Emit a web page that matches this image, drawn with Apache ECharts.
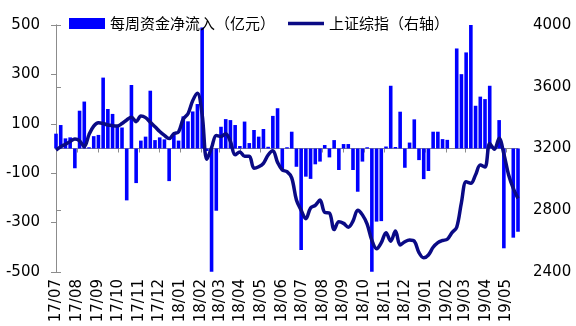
<!DOCTYPE html>
<html>
<head>
<meta charset="utf-8">
<script src="https://cdn.jsdelivr.net/npm/echarts@6/dist/echarts.min.js"></script>
<style>
  html, body { margin: 0; padding: 0; background: #fff; }
  #chart { width: 576px; height: 326px; }
</style>
</head>
<body>
<div id="chart"></div>
<script>
// Weekly dates (Fridays)
const weekDates = [
  '2017-07-07','2017-07-14','2017-07-21','2017-07-28','2017-08-04','2017-08-11','2017-08-18','2017-08-25',
  '2017-09-01','2017-09-08','2017-09-15','2017-09-22','2017-09-29','2017-10-06','2017-10-13','2017-10-20',
  '2017-10-27','2017-11-03','2017-11-10','2017-11-17','2017-11-24','2017-12-01','2017-12-08','2017-12-15',
  '2017-12-22','2017-12-29',
  '2018-01-05','2018-01-12','2018-01-19','2018-01-26','2018-02-02','2018-02-09','2018-02-16','2018-02-23',
  '2018-03-02','2018-03-09','2018-03-16','2018-03-23','2018-03-30','2018-04-06','2018-04-13','2018-04-20',
  '2018-04-27','2018-05-04','2018-05-11','2018-05-18','2018-05-25','2018-06-01','2018-06-08','2018-06-15',
  '2018-06-22','2018-06-29','2018-07-06','2018-07-13','2018-07-20','2018-07-27','2018-08-03','2018-08-10',
  '2018-08-17','2018-08-24','2018-08-31','2018-09-07','2018-09-14','2018-09-21','2018-09-28','2018-10-05',
  '2018-10-12','2018-10-19','2018-10-26','2018-11-02','2018-11-09','2018-11-16','2018-11-23','2018-11-30',
  '2018-12-07','2018-12-14','2018-12-21','2018-12-28',
  '2019-01-04','2019-01-11','2019-01-18','2019-01-25','2019-02-01','2019-02-08','2019-02-15','2019-02-22',
  '2019-03-01','2019-03-08','2019-03-15','2019-03-22','2019-03-29','2019-04-05','2019-04-12','2019-04-19',
  '2019-04-26','2019-05-03','2019-05-10','2019-05-17','2019-05-24'
];

// 每周资金净流入（亿元）
const netInflow = [
  60, 95, 41, 45, -80, 153, 190, 5, 50, 55,
  287, 160, 140, 90, 85, -210, 257, -140, 32, 48,
  234, 34, 45, 37, -132, 55, 32, 130, 110, 150,
  180, 490, -10, -499, -252, 88, 119, 115, 95, 10,
  109, 22, 75, 48, 79, 7, 132, 163, -87, 5,
  68, -74, -411, -114, -123, -64, -53, 14, -36, 34,
  -87, 18, 18, -87, -175, -53, 5, -499, -296, -294,
  8, 254, 6, 149, -78, 24, 118, -47, -124, -91,
  68, 68, 38, 35, 0, 405, 301, 389, 500, 173,
  210, 200, 254, 0, 115, -404, 0, -361, -337
];

// 上证综指（右轴）
const shIndex = [
  3190, 3212, 3228, 3245, 3262, 3250, 3212, 3290, 3345, 3367,
  3362, 3352, 3348, 3346, 3362, 3385, 3403, 3374, 3410, 3400,
  3370, 3341, 3310, 3285, 3264, 3296, 3308, 3392, 3425, 3510,
  3558, 3420, 3130, 3205, 3285, 3278, 3296, 3245, 3160, 3178,
  3150, 3150, 3072, 3082, 3104, 3158, 3185, 3110, 3061, 3050,
  3010, 2866, 2800, 2745, 2815, 2832, 2866, 2786, 2782, 2675,
  2726, 2715, 2690, 2730, 2800, 2770, 2710, 2605, 2550, 2590,
  2655, 2600, 2665, 2575, 2596, 2607, 2600, 2525, 2492, 2510,
  2560, 2590, 2604, 2612, 2655, 2690, 2850, 2985, 2975, 3030,
  3093, 3080, 3232, 3195, 3266, 3165, 3030, 2942, 2877
];

// Monthly tick / label positions on the date axis
const monthTicks = [
  '2017-07-07','2017-08-07','2017-09-07','2017-10-07','2017-11-07','2017-12-07',
  '2018-01-07','2018-02-07','2018-03-07','2018-04-07','2018-05-07','2018-06-07',
  '2018-07-07','2018-08-07','2018-09-07','2018-10-07','2018-11-07','2018-12-07',
  '2019-01-07','2019-02-07','2019-03-07','2019-04-07','2019-05-07'
];

const seriesNames = ['每周资金净流入（亿元）', '上证综指（右轴）'];

// Dates are placed on a numeric axis as day offsets from the first week
const DAY = 86400000;
function toDate(s) {
  const p = s.split('-').map(Number);
  return Date.UTC(p[0], p[1] - 1, p[2]);
}
const origin = toDate(weekDates[0]);
function dayOf(s) { return Math.round((toDate(s) - origin) / DAY); }
function monthLabel(v) {
  const d = new Date(origin + v * DAY);
  return String(d.getUTCFullYear()).slice(2) + '/' + String(d.getUTCMonth() + 1).padStart(2, '0');
}

const tickDays = monthTicks.map(dayOf);
const xMin = 0;
const xMax = dayOf(weekDates[weekDates.length - 1]);
const barData = weekDates.map((d, i) => [dayOf(d), netInflow[i]]);
const lineData = weekDates.map((d, i) => [dayOf(d), shIndex[i]]);

const axisGray = '#8c8c8c';
const lineColor = '#0a0a85';
const font = '"DejaVu Sans", sans-serif';
const plain = v => String(v);

const chart = echarts.init(document.getElementById('chart'), null, { renderer: 'canvas' });
chart.setOption({
  animation: false,
  backgroundColor: '#fff',
  textStyle: { fontFamily: font },
  legend: {
    left: 64,
    top: 11,
    itemWidth: 36,
    itemHeight: 11,
    itemGap: 13,
    textStyle: { fontSize: 15, color: '#000', fontFamily: '"Noto Sans CJK SC", sans-serif' },
    data: [
      { name: seriesNames[0], icon: 'rect' },
      { name: seriesNames[1], icon: 'path://M0 0 L100 0 L100 10 L0 10 Z', itemStyle: { color: lineColor } }
    ]
  },
  grid: { left: 56, right: 58, top: 25, bottom: 54 },
  xAxis: [
    {
      type: 'value',
      min: xMin,
      max: xMax,
      axisLine: { onZero: true, onZeroAxisIndex: 0, lineStyle: { color: axisGray, width: 1 } },
      axisTick: { show: true, length: 4, customValues: tickDays, lineStyle: { color: axisGray } },
      axisLabel: { show: false },
      splitLine: { show: false }
    },
    {
      type: 'value',
      position: 'bottom',
      min: xMin,
      max: xMax,
      axisLine: { show: false, onZero: false },
      axisTick: { show: false },
      axisLabel: {
        show: true,
        rotate: 90,
        margin: 7,
        fontSize: 15,
        color: '#000',
        fontFamily: font,
        customValues: tickDays,
        formatter: monthLabel,
        showMinLabel: true,
        showMaxLabel: true
      },
      splitLine: { show: false }
    }
  ],
  yAxis: [
    {
      type: 'value',
      min: -500,
      max: 500,
      interval: 200,
      axisLine: { show: true, lineStyle: { color: axisGray } },
      axisTick: { show: true, length: 5, lineStyle: { color: axisGray } },
      axisLabel: { fontSize: 15, color: '#000', margin: 16, fontFamily: font, formatter: plain },
      splitLine: { show: false }
    },
    {
      type: 'value',
      min: 2400,
      max: 4000,
      interval: 400,
      position: 'right',
      axisLine: { show: true, lineStyle: { color: axisGray } },
      axisTick: { show: true, length: 5, lineStyle: { color: axisGray } },
      axisLabel: { fontSize: 15, color: '#000', margin: 15, fontFamily: font, formatter: plain },
      splitLine: { show: false }
    }
  ],
  series: [
    {
      name: seriesNames[0],
      type: 'bar',
      xAxisIndex: 0,
      yAxisIndex: 0,
      barWidth: 3.6,
      itemStyle: { color: '#0000ff' },
      data: barData,
      z: 2
    },
    {
      name: seriesNames[1],
      type: 'line',
      xAxisIndex: 0,
      yAxisIndex: 1,
      smooth: 0.35,
      showSymbol: false,
      symbol: 'none',
      lineStyle: { color: lineColor, width: 3.5 },
      itemStyle: { color: lineColor },
      data: lineData,
      z: 3
    }
  ]
});
</script>
</body>
</html>
